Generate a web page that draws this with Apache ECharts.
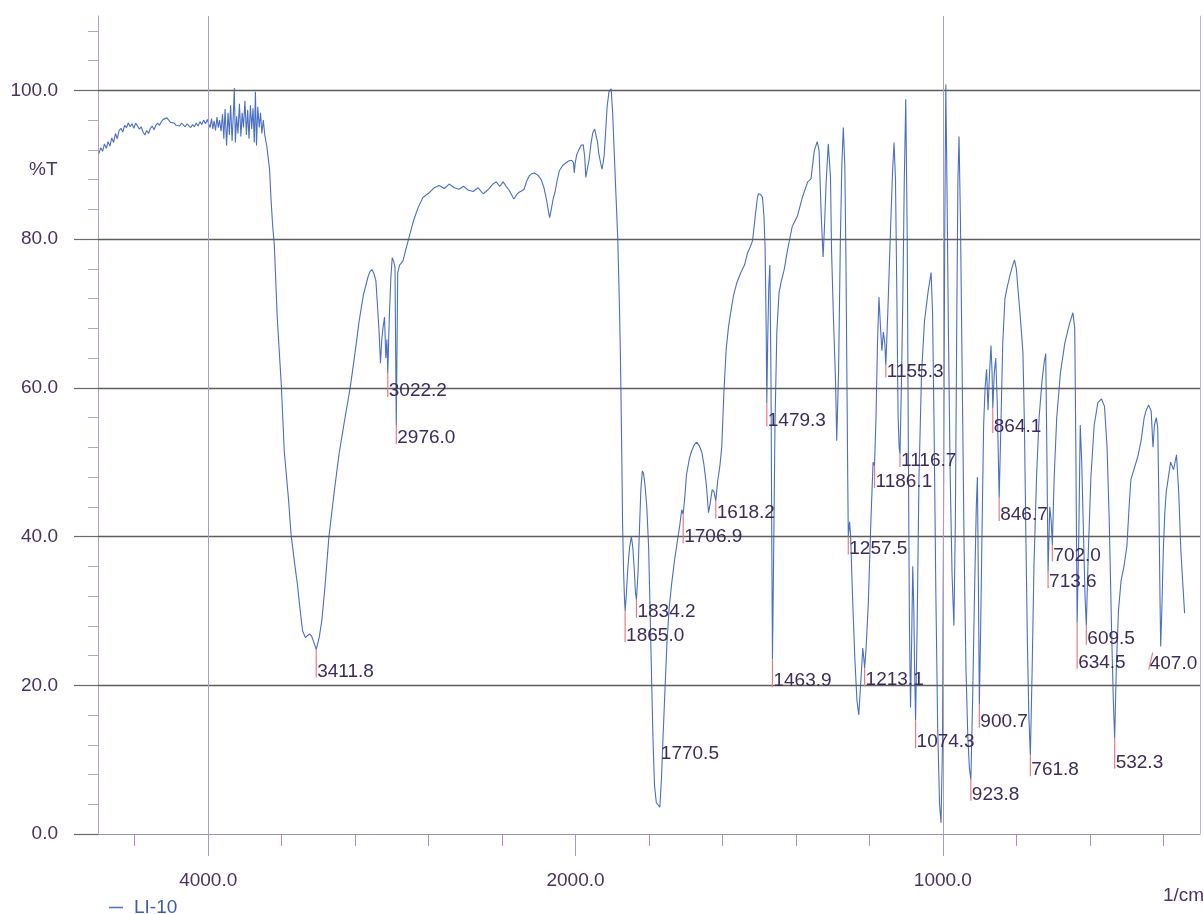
<!DOCTYPE html>
<html>
<head>
<meta charset="utf-8">
<script src="https://cdn.jsdelivr.net/npm/echarts@6/dist/echarts.min.js"></script>
<style>
  html, body { margin: 0; padding: 0; background: #ffffff; }
  #chart { width: 1203px; height: 914px; }
</style>
</head>
<body>
<div id="chart"></div>
<script>
// IR transmittance spectrum of sample LI-10, wavenumber in 1/cm, %T
const seriesName = 'LI-10';

const wavenumbers = [
  4595, 4585, 4575, 4565, 4555, 4545, 4535, 4525, 4515, 4505, 4495, 4485, 4475, 4465, 4455, 4445,
  4435, 4425, 4415, 4405, 4395, 4385, 4375, 4365, 4355, 4345, 4335, 4325, 4315, 4305, 4295, 4285,
  4275, 4265, 4255, 4245, 4235, 4225, 4215, 4205, 4195, 4185, 4175, 4165, 4155, 4145, 4135, 4125,
  4115, 4105, 4095, 4085, 4075, 4065, 4055, 4045, 4035, 4025, 4015, 4005, 3995,
  3990, 3982, 3975, 3968, 3960, 3952, 3945, 3938, 3930, 3922, 3915, 3908, 3900, 3892, 3885, 3878,
  3870, 3862, 3858, 3852, 3845, 3838, 3830, 3822, 3815, 3808, 3800, 3792, 3785, 3778, 3770, 3763,
  3756, 3749, 3743, 3737, 3730, 3722, 3715, 3708, 3700, 3692,
  3681, 3666, 3658, 3649, 3640, 3624, 3602, 3586, 3562, 3549, 3530, 3514, 3500, 3486, 3470, 3459,
  3448, 3437, 3425, 3411.8, 3395, 3381, 3365, 3343, 3315, 3287, 3255, 3227, 3200, 3178, 3155, 3131,
  3120, 3109, 3098, 3087, 3079, 3070, 3062, 3055, 3048, 3040, 3033, 3027, 3022.2, 3014, 3005, 2998,
  2990, 2983, 2976.0, 2968, 2958, 2948, 2939, 2925, 2911, 2896, 2882, 2856, 2831, 2815, 2798, 2770,
  2742, 2715, 2688, 2660, 2634, 2610, 2585, 2558, 2530, 2503, 2487, 2471, 2450, 2432, 2412, 2394,
  2378, 2362, 2349, 2336, 2320, 2307, 2292, 2280, 2266, 2252, 2238, 2225, 2205, 2187, 2172, 2158,
  2148, 2141, 2132, 2122, 2112, 2100, 2088, 2070, 2055, 2038, 2022, 2011, 2007, 2002, 1997, 1992,
  1985, 1979, 1975, 1972, 1968, 1963, 1958, 1953, 1948, 1944, 1940, 1937, 1932, 1928, 1925, 1922,
  1918, 1914, 1909, 1903, 1899, 1895, 1890, 1885, 1881, 1878, 1876, 1874, 1872, 1869, 1867, 1865.0,
  1862, 1858, 1853, 1848, 1844, 1840, 1837, 1834.2, 1830, 1826, 1822, 1818, 1815, 1811, 1806, 1801,
  1797, 1793, 1789, 1785, 1780, 1775, 1770.5, 1766, 1762, 1756, 1751, 1745, 1738, 1730, 1723, 1716,
  1711, 1706.9, 1702, 1698, 1690, 1684, 1676, 1670, 1663, 1656, 1650, 1644, 1638, 1633, 1628, 1623,
  1618.2, 1613, 1607, 1602, 1596, 1590, 1584, 1579, 1570, 1561, 1550, 1540, 1532, 1524, 1518, 1511,
  1505, 1502, 1496, 1491, 1487, 1484, 1481, 1479.3, 1477, 1474, 1471, 1468, 1466, 1463.9, 1461, 1457,
  1452, 1446, 1440, 1432, 1423, 1410, 1396, 1382, 1368, 1359, 1350, 1342, 1337, 1331, 1326, 1322,
  1318, 1312, 1306, 1303, 1298, 1292, 1289, 1284, 1279, 1275, 1271, 1267, 1264, 1261, 1259, 1257.5,
  1254, 1251, 1246, 1240, 1234, 1229, 1224, 1218, 1215, 1213.1, 1209, 1203, 1196, 1190, 1186.1, 1182,
  1178, 1174, 1170, 1166, 1162, 1158, 1155.3, 1150, 1146, 1142, 1137, 1133, 1129, 1125, 1122, 1119,
  1116.7, 1113, 1109, 1105, 1101, 1097, 1094, 1091, 1088, 1085, 1082, 1079, 1077, 1074.3, 1070, 1065,
  1058, 1050, 1040, 1032, 1028, 1024, 1019, 1014, 1009, 1005, 1001, 998, 995, 992, 989, 985,
  980, 975, 970, 966, 962, 959, 956, 952, 947, 942, 937, 932, 928, 923.8, 919, 914,
  909, 906, 903, 900.7, 897, 893, 889, 885, 881, 877, 873, 869, 866, 864.1, 860, 856,
  852, 846.7, 842, 837, 831, 825, 818, 811, 805, 800, 795, 790, 786, 782, 778, 774,
  770, 766, 761.8, 757, 752, 745, 738, 730, 724, 720, 717, 713.6, 709, 705, 702.0, 697,
  690, 680, 668, 656, 646, 641, 638, 634.5, 630, 626, 622, 617, 613, 609.5, 604, 597,
  588, 578, 568, 560, 553, 547, 541, 536, 532.3, 528, 522, 515, 507, 499, 493, 488,
  480, 469, 460, 452, 447, 440, 433, 428, 424, 419, 415, 412, 409, 407.0, 404, 400,
  396, 392, 386, 380, 372, 364, 358, 352, 346, 342
];

const transmittance = [
  91.5, 92.3, 91.8, 92.8, 92.2, 93.1, 92.5, 93.6, 93.0, 94.2, 93.5, 94.6, 94.9, 94.4, 95.3, 95.0,
  95.6, 95.1, 95.5, 94.9, 95.6, 95.2, 94.8, 95.1, 94.4, 94.0, 94.6, 94.2, 94.9, 95.2, 94.7, 95.3,
  95.6, 95.3, 95.8, 96.1, 95.9, 96.3, 96.0, 95.7, 95.9, 95.6, 95.3, 95.5, 95.2, 95.6, 95.4, 95.1,
  95.5, 95.3, 95.0, 95.4, 95.1, 95.6, 95.2, 95.8, 95.4, 96.0, 95.5, 96.1, 95.3,
  95.0, 96.2, 94.8, 95.9, 94.6, 96.4, 95.0, 96.0, 94.5, 96.8, 93.5, 97.5, 92.6, 97.0, 94.0, 98.0,
  93.2, 97.4, 100.3, 93.0, 96.5, 94.2, 98.2, 93.8, 97.0, 95.0, 98.6, 94.0, 97.4, 93.5, 98.0, 94.8,
  97.6, 93.0, 99.8, 92.6, 97.8, 95.0, 97.0, 94.2, 96.0, 94.0,
  92.5, 89.4, 85.4, 81.8, 79.2, 69.4, 60.4, 51.5, 44.8, 40.3, 36.5, 33.5, 30.2, 27.3, 26.4, 26.7,
  26.9, 26.6, 25.8, 24.8, 26.5, 28.8, 33.0, 39.9, 45.8, 51.2, 56.0, 60.0, 64.8, 69.0, 72.5, 74.8,
  75.6, 75.9, 75.4, 74.4, 71.3, 67.7, 63.3, 66.5, 68.1, 69.5, 64.0, 66.5, 62.0, 69.5, 75.0, 77.5,
  77.0, 76.2, 55.0, 75.5, 76.5, 76.8, 77.1, 78.5, 79.8, 81.2, 82.5, 84.3, 85.6, 85.9, 86.2, 86.9,
  87.2, 86.8, 87.4, 86.9, 86.7, 87.1, 86.6, 86.4, 86.9, 86.1, 86.4, 86.8, 87.4, 87.7, 87.1, 87.7,
  87.1, 86.6, 86.0, 85.4, 86.0, 86.3, 86.5, 86.7, 87.8, 88.5, 88.8, 88.9, 88.6, 88.0, 86.9, 85.3,
  83.8, 82.9, 84.0, 85.4, 86.3, 87.9, 89.2, 89.9, 90.2, 90.5, 90.6, 90.3, 88.9, 90.2, 91.3, 91.9,
  92.6, 92.7, 91.0, 88.3, 89.4, 90.7, 92.8, 94.3, 94.8, 94.6, 93.0, 91.6, 90.3, 89.4, 90.2, 91.3,
  94.5, 97.8, 99.8, 100.2, 97.0, 92.1, 86.0, 80.0, 72.0, 65.0, 58.0, 50.5, 42.0, 35.0, 32.0, 30.0,
  32.0, 35.5, 38.5, 40.0, 38.5, 35.5, 32.5, 31.5, 35.0, 41.0, 46.5, 48.8, 48.5, 47.0, 44.0, 38.5,
  30.0, 21.0, 12.5, 6.5, 4.2, 3.9, 3.6, 7.5, 12.8, 20.0, 25.8, 30.5, 33.8, 37.0, 39.3, 41.6,
  43.6, 43.0, 45.6, 48.3, 50.5, 51.5, 52.4, 52.7, 52.2, 51.3, 49.5, 47.0, 43.2, 44.6, 46.3, 46.0,
  44.8, 47.5, 49.5, 52.0, 59.5, 65.1, 68.0, 69.7, 72.4, 74.1, 75.5, 76.5, 78.1, 79.0, 79.8, 83.0,
  85.5, 86.1, 86.0, 85.6, 83.0, 79.0, 68.0, 57.9, 66.0, 73.5, 76.5, 62.0, 42.0, 23.5, 36.0, 55.0,
  67.5, 72.8, 74.3, 75.9, 78.5, 81.7, 83.1, 85.7, 87.7, 88.1, 91.9, 93.1, 91.9, 83.0, 77.6, 82.0,
  87.4, 92.8, 88.4, 78.4, 69.6, 60.6, 52.9, 62.0, 80.0, 90.0, 95.0, 90.0, 78.0, 60.0, 48.0, 40.0,
  42.0, 40.0, 32.0, 24.0, 18.0, 16.0, 20.0, 25.0, 23.5, 22.3, 25.0, 31.0, 42.0, 50.0, 49.5, 56.0,
  66.0, 72.2, 68.3, 65.0, 67.5, 66.0, 63.0, 70.0, 76.0, 82.0, 89.0, 93.0, 88.0, 71.3, 56.3, 52.0,
  51.1, 60.0, 72.0, 88.0, 98.8, 80.0, 52.0, 28.0, 17.0, 26.0, 36.0, 30.0, 22.0, 15.3, 28.0, 48.0,
  62.0, 69.0, 73.0, 75.5, 70.0, 55.0, 32.0, 14.0, 4.0, 1.5, 12.0, 45.0, 80.0, 100.8, 88.0, 68.0,
  48.0, 35.0, 28.0, 42.0, 70.0, 88.0, 93.8, 82.0, 60.0, 38.0, 22.0, 13.0, 9.0, 7.3, 18.0, 32.0,
  44.0, 48.0, 32.0, 17.4, 28.0, 42.0, 55.0, 60.0, 62.5, 57.0, 62.0, 65.7, 62.0, 57.3, 62.0, 64.0,
  58.0, 45.2, 55.0, 66.0, 72.0, 73.5, 75.0, 76.3, 77.2, 76.0, 73.0, 70.0, 67.4, 64.7, 55.0, 40.0,
  26.0, 16.0, 10.6, 22.0, 36.0, 48.0, 56.0, 61.0, 63.5, 64.6, 52.0, 35.2, 44.0, 42.0, 38.8, 48.0,
  56.0, 62.0, 66.0, 68.5, 70.1, 68.0, 52.0, 28.4, 40.0, 55.0, 50.0, 40.0, 32.0, 28.0, 38.0, 48.0,
  55.0, 58.0, 58.5, 57.5, 52.0, 42.0, 28.0, 18.0, 12.8, 22.0, 30.0, 34.0, 36.0, 38.7, 44.0, 47.7,
  49.0, 50.8, 53.0, 56.0, 56.9, 57.7, 56.9, 52.0, 55.0, 56.0, 54.6, 45.0, 32.0, 25.2, 30.0, 38.0,
  43.0, 46.0, 48.0, 50.0, 49.0, 51.0, 46.0, 38.0, 33.0, 29.7
];

// Picked peaks (wavenumber, 1/cm)
const peakWavenumbers = [
  3411.8, 3022.2, 2976.0, 1865.0, 1834.2, 1770.5, 1706.9, 1618.2, 1479.3, 1463.9,
  1257.5, 1213.1, 1186.1, 1155.3, 1116.7, 1074.3, 923.8, 900.7, 864.1, 846.7,
  761.8, 713.6, 702.0, 634.5, 609.5, 532.3, 407.0
];

// Axis ticks
const yMajorTicks = [0, 20, 40, 60, 80, 100];
const yMinorTicks = [4, 8, 12, 16, 24, 28, 32, 36, 44, 48, 52, 56, 64, 68, 72, 76, 84, 88, 92, 96, 104, 108];
const xLabelWavenumbers = [4000, 2000, 1000];
const xMinorWavenumbers = [4400, 3600, 3200, 2800, 2400, 1800, 1600, 1400, 1200, 800, 600, 400];
const xMarkerWavenumbers = [4000, 1000];
const xRange = [300, 4600];

// The instrument plots the region above 2000 1/cm at half the scale of the region below.
function toAxis(w) { return w <= 2000 ? w : 2000 + (w - 2000) / 2; }
function fromAxis(p) { return p <= 2000 ? p : 2000 + (p - 2000) * 2; }

const spectrum = wavenumbers.map((w, i) => [toAxis(w), transmittance[i]]);
const peaks = peakWavenumbers.map(w => [toAxis(w), transmittance[wavenumbers.indexOf(w)], w]);

// Label placement tweaks: dy = text centre below the peak, dx = sideways shift
const labelPlacement = {
  '3411.8': { dy: 22 }, '3022.2': { dy: 18 }, '2976.0': { dy: 13 }, '1865.0': { dy: 25 },
  '1834.2': { dy: 12 }, '1770.5': { dy: -53, noLine: true }, '1706.9': { dy: 23 }, '1618.2': { dy: 12 },
  '1479.3': { dy: 17 }, '1463.9': { dy: 22 }, '1257.5': { dy: 12 }, '1213.1': { dy: 12 },
  '1186.1': { dy: 16 }, '1155.3': { dy: 6 }, '1116.7': { dy: 7 }, '1074.3': { dy: 22 },
  '923.8': { dy: 15 }, '900.7': { dy: 17 }, '864.1': { dy: 19 }, '846.7': { dy: 17 },
  '761.8': { dy: 15 }, '713.6': { dy: 10 }, '702.0': { dy: 10 }, '634.5': { dy: 40 },
  '609.5': { dy: 13 }, '532.3': { dy: 24 }, '407.0': { dy: 17, dx: -12 }
};

const FONT = '"Liberation Sans", Arial, sans-serif';
const TICK_TEXT = '#4b3263';
const PEAK_TEXT = '#3d2c58';
const CURVE = '#4a6fc4';

const xMin = toAxis(xRange[0]);
const xMax = toAxis(xRange[1]);

function xAxisBase() {
  return {
    type: 'value', min: xMin, max: xMax, inverse: true, position: 'bottom',
    splitLine: { show: false }, gridIndex: 0
  };
}
function yAxisBase() {
  return { type: 'value', min: 0, max: 110, interval: 20, splitLine: { show: false }, gridIndex: 0 };
}

const chart = echarts.init(document.getElementById('chart'), null, { renderer: 'canvas' });

chart.setOption({
  animation: false,
  backgroundColor: '#ffffff',
  grid: { left: 98, right: 3, top: 16, bottom: 80, containLabel: false },
  legend: {
    data: [seriesName], left: 104, top: 893, icon: 'rect', itemWidth: 14, itemHeight: 1.5,
    itemStyle: { color: CURVE },
    textStyle: { color: '#3a5db0', fontSize: 19, fontFamily: FONT, padding: [0, 0, 0, 6] }
  },
  xAxis: [
    Object.assign(xAxisBase(), {
      axisLine: { show: true, lineStyle: { color: '#9d8fae', width: 1 } },
      axisTick: {
        show: true, length: 12, customValues: xMinorWavenumbers.map(toAxis),
        lineStyle: { color: '#b08fb8', width: 1 }
      },
      axisLabel: {
        show: true, margin: 37, customValues: xLabelWavenumbers.map(toAxis),
        formatter: v => fromAxis(v).toFixed(1),
        color: TICK_TEXT, fontSize: 19, fontFamily: FONT
      }
    }),
    Object.assign(xAxisBase(), {
      axisLine: { show: false },
      axisTick: {
        show: true, length: 22, customValues: xLabelWavenumbers.map(toAxis),
        lineStyle: { color: '#a898c0', width: 1 }
      },
      axisLabel: { show: false }
    })
  ],
  yAxis: [
    Object.assign(yAxisBase(), {
      position: 'left',
      axisLine: { show: true, lineStyle: { color: '#c59ac8', width: 1 } },
      axisTick: {
        show: true, length: 24, customValues: yMajorTicks, inside: false,
        lineStyle: { color: '#6a6a6a', width: 1.2 }
      },
      axisLabel: {
        show: true, margin: 40, customValues: yMajorTicks,
        formatter: v => (v <= 100 ? v.toFixed(1) : ''),
        color: TICK_TEXT, fontSize: 19, fontFamily: FONT
      }
    }),
    Object.assign(yAxisBase(), {
      position: 'left',
      axisLine: { show: false },
      axisTick: {
        show: true, length: 10, customValues: yMinorTicks,
        lineStyle: { color: '#c0a0c4', width: 1 }
      },
      axisLabel: { show: false }
    }),
    Object.assign(yAxisBase(), {
      position: 'right',
      axisLine: { show: true, lineStyle: { color: '#c8b4dc', width: 1 } },
      axisTick: { show: false },
      axisLabel: { show: false }
    })
  ],
  graphic: [
    { type: 'text', left: 29, top: 160, style: { text: '%T', fill: TICK_TEXT, font: '19px ' + FONT } },
    { type: 'text', left: 1163, top: 886, style: { text: '1/cm', fill: TICK_TEXT, font: '19px ' + FONT } }
  ],
  series: [
    {
      name: seriesName, type: 'line', xAxisIndex: 0, yAxisIndex: 0,
      data: spectrum, symbol: 'none', showSymbol: false, smooth: false,
      lineStyle: { color: CURVE, width: 1.1 }, itemStyle: { color: CURVE },
      z: 3,
      markLine: {
        silent: true, symbol: ['none', 'none'], label: { show: false },
        emphasis: { disabled: true },
        data: yMajorTicks.filter(v => v > 0).map(v => ({
          yAxis: v, lineStyle: { color: '#5c5c5c', width: 1.3, type: 'solid' }
        })).concat(xMarkerWavenumbers.map(w => ({
          xAxis: toAxis(w), lineStyle: { color: '#ab9cc6', width: 1, type: 'solid' }
        })))
      }
    },
    {
      name: 'peaks', type: 'custom', xAxisIndex: 0, yAxisIndex: 0, silent: true, z: 5,
      data: peaks,
      renderItem: function (params, api) {
        const p = api.coord([api.value(0), api.value(1)]);
        const w = api.value(2);
        const text = w.toFixed(1);
        const place = labelPlacement[text] || {};
        const dy = place.dy !== undefined ? place.dy : 16;
        const dx = place.dx || 0;
        const children = [];
        if (!place.noLine) {
          children.push({
            type: 'line',
            shape: { x1: p[0] + (dx ? dx + 4 : 0), y1: p[1] + (dx ? 6 : 0), x2: p[0] + dx, y2: p[1] + dy + 6 },
            style: { stroke: '#ec7c7c', lineWidth: 1.2 }
          });
        }
        children.push({
          type: 'text', x: p[0] + dx + 1, y: p[1] + dy,
          style: { text: text, fill: PEAK_TEXT, font: '19px ' + FONT, align: 'left', verticalAlign: 'middle' }
        });
        return { type: 'group', children: children };
      }
    }
  ]
});
</script>
</body>
</html>
